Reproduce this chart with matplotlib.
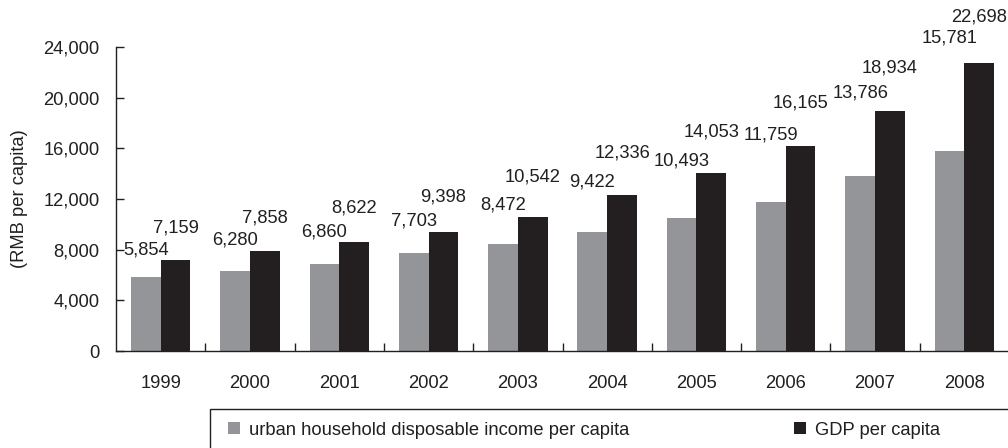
import matplotlib
matplotlib.use("Agg")
import matplotlib.pyplot as plt
from matplotlib.patches import Patch, Rectangle
import numpy as np

plt.rcParams['font.family'] = ['Liberation Sans', 'DejaVu Sans']

years = ['1999', '2000', '2001', '2002', '2003', '2004', '2005', '2006', '2007', '2008']
income = [5854, 6280, 6860, 7703, 8472, 9422, 10493, 11759, 13786, 15781]
gdp = [7159, 7858, 8622, 9398, 10542, 12336, 14053, 16165, 18934, 22698]

# how far above each bar top the value label sits (pixels)
income_lift = [27, 31, 32, 32, 39, 50, 57, 67, 83, 113]
gdp_lift = [32, 33, 34, 35, 40, 42, 41, 43, 43, 46]

GREY = '#939598'
BLACK = '#231f20'
FS = 13.2

fig = plt.figure(figsize=(10.08, 4.48), dpi=100)
ax = fig.add_axes([116/1008, 1-351/448, 893/1008, 304/448])

x = np.arange(len(years))
w = 0.333
b1 = ax.bar(x - w/2, income, w, color=GREY, label='urban household disposable income per capita')
b2 = ax.bar(x + w/2, gdp, w, color=BLACK, label='GDP per capita')

for i in range(len(years)):
    ax.annotate(f'{income[i]:,}', (x[i] - w/2, income[i]), xytext=(0, income_lift[i]),
                textcoords='offset pixels', ha='center', va='center', fontsize=FS, color=BLACK)
    ax.annotate(f'{gdp[i]:,}', (x[i] + w/2, gdp[i]), xytext=(0, gdp_lift[i]),
                textcoords='offset pixels', ha='center', va='center', fontsize=FS, color=BLACK)

ax.set_xlim(-0.5, len(years) - 0.5)
ax.set_ylim(0, 24000)
ax.set_yticks(np.arange(0, 24001, 4000))
ax.set_yticklabels([f'{v:,}' for v in range(0, 24001, 4000)])
ax.set_xticks(x)
ax.set_xticklabels(years)
ax.set_xticks(np.arange(0.5, len(years) - 1, 1), minor=True)

for s in ['top', 'right']:
    ax.spines[s].set_visible(False)
for s in ['left', 'bottom']:
    ax.spines[s].set_linewidth(1.0)
    ax.spines[s].set_color(BLACK)

ax.tick_params(axis='y', direction='in', length=5.5, width=1, pad=12, labelsize=FS,
               colors=BLACK)
ax.tick_params(axis='x', which='major', length=0, pad=17, labelsize=FS, colors=BLACK)
ax.tick_params(axis='x', which='minor', direction='in', length=5.5, width=1, color=BLACK)

fig.text(20/1008, 1-199/448, '(RMB per capita)', rotation=90, ha='center', va='center',
         fontsize=FS, color=BLACK)

# legend frame runs off the bottom/right of the figure
fig.patches.append(Rectangle((210/1008, -0.2), 1.0, 0.2 + 1-409/448, transform=fig.transFigure,
                             fill=False, edgecolor=BLACK, linewidth=1.0, clip_on=False))
handles = [Patch(facecolor=GREY, edgecolor='none'), Patch(facecolor=BLACK, edgecolor='none')]
fig.legend(handles, [b1.get_label(), b2.get_label()], ncol=2, frameon=False,
           loc='center left', bbox_to_anchor=(228/1008, 1-430/448), borderpad=0,
           borderaxespad=0, handlelength=0.66, handleheight=0.66, handletextpad=0.5,
           columnspacing=8.95, fontsize=FS, labelcolor=BLACK)

fig.savefig('out.png', dpi=100)
